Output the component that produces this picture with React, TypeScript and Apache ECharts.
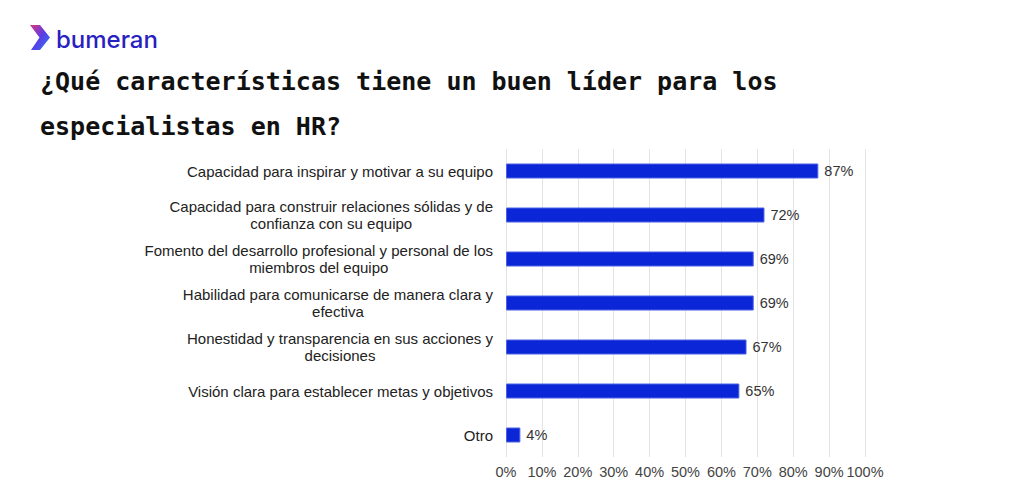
import React, { useEffect, useRef } from "react";
import * as echarts from "echarts";

const categories = [
  "Capacidad para inspirar y motivar a su equipo",
  "Capacidad para construir relaciones sólidas y de\nconfianza con su equipo",
  "Fomento del desarrollo profesional y personal de los\nmiembros del equipo",
  "Habilidad para comunicarse de manera clara y\nefectiva",
  "Honestidad y transparencia en sus acciones y\ndecisiones",
  "Visión clara para establecer metas y objetivos",
  "Otro",
];
const values = [87, 72, 69, 69, 67, 65, 4];
const titleLines = [
  "¿Qué características tiene un buen líder para los",
  "especialistas en HR?",
];
const brand = "bumeran";

export default function App() {
  const ref = useRef<HTMLDivElement>(null);
  useEffect(() => {
    if (!ref.current) return;
    const chart = echarts.init(ref.current, null, { renderer: "svg" });
    const font = "'Liberation Sans', Arial, sans-serif";
    chart.setOption({
      animation: false,
      backgroundColor: "#ffffff",
      grid: { left: 506, right: 159, top: 149, bottom: 40, containLabel: false },
      xAxis: {
        type: "value",
        min: 0,
        max: 100,
        interval: 10,
        axisLine: { show: false },
        axisTick: { show: false },
        splitLine: { show: true, lineStyle: { color: "#e3e3e3", width: 1 } },
        axisLabel: {
          formatter: "{value}%",
          color: "#444444",
          fontSize: 14.5,
          fontFamily: font,
          margin: 7,
        },
      },
      yAxis: {
        type: "category",
        inverse: true,
        data: categories,
        axisLine: { show: false },
        axisTick: { show: false },
        splitLine: { show: false },
        axisLabel: {
          align: "right",
          margin: 13,
          formatter: (v: string) =>
            v
              .split("\n")
              .map((l) => `{c|${l}}`)
              .join("\n"),
          rich: {
            c: {
              align: "center",
              fontSize: 15,
              lineHeight: 17,
              color: "#222222",
              fontFamily: font,
            },
          },
        },
      },
      series: [
        {
          type: "bar",
          data: values,
          barWidth: 15,
          itemStyle: { color: "#0b26d6", borderColor: "#4d63e4", borderWidth: 1 },
          label: {
            show: true,
            position: "right",
            distance: 6,
            formatter: "{c}%",
            color: "#333333",
            fontSize: 14.5,
            fontFamily: font,
          },
        },
      ],
      graphic: [
        {
          type: "polygon",
          shape: {
            points: [
              [30, 25],
              [40, 25],
              [50, 37.5],
              [40, 50],
              [31, 50],
              [39.5, 37.5],
            ],
          },
          style: {
            fill: new echarts.graphic.LinearGradient(0, 0, 1, 1, [
              { offset: 0, color: "#e0357f" },
              { offset: 0.5, color: "#5a3ce6" },
              { offset: 1, color: "#2a7cf0" },
            ]),
          },
        },
        {
          type: "text",
          x: 56,
          y: 39,
          style: {
            text: brand,
            fill: "#2a1fc0",
            fontSize: 24,
            fontWeight: 500,
            fontFamily: "Inter, 'Noto Sans', sans-serif",
            verticalAlign: "middle",
            align: "left",
          },
        },
        {
          type: "text",
          x: 40,
          y: 81.5,
          style: {
            text: titleLines[0],
            fill: "#111111",
            fontSize: 25,
            fontWeight: "bold",
            fontFamily: "'DejaVu Sans Mono', monospace",
            verticalAlign: "middle",
            align: "left",
          },
        },
        {
          type: "text",
          x: 40,
          y: 126.5,
          style: {
            text: titleLines[1],
            fill: "#111111",
            fontSize: 25,
            fontWeight: "bold",
            fontFamily: "'DejaVu Sans Mono', monospace",
            verticalAlign: "middle",
            align: "left",
          },
        },
      ],
    });
    return () => chart.dispose();
  }, []);
  return (
    <div
      ref={ref}
      style={{ position: "absolute", left: 0, top: 0, width: 1024, height: 497 }}
    />
  );
}
